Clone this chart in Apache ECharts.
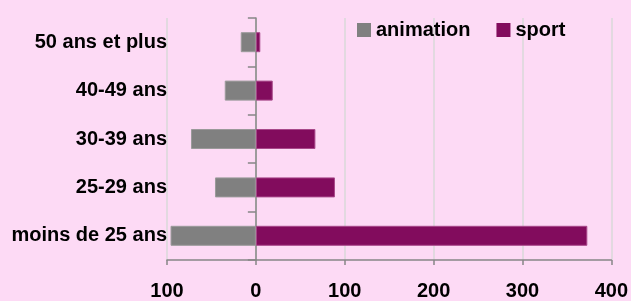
<!DOCTYPE html>
<html lang="fr">
<head>
    <meta charset="utf-8">
    <style>
        html, body { margin: 0; padding: 0; background: #fddaf5; }
        #chart { width: 631px; height: 301px; }
    </style>
</head>
<body>
<div id="chart"></div>
<script type="text/javascript" src="https://cdn.jsdelivr.net/npm/echarts@6/dist/echarts.min.js"></script>
<script type="text/javascript">
    // categories, bottom to top
    var categories = ['moins de 25 ans', '25-29 ans', '30-39 ans', '40-49 ans', '50 ans et plus'];
    // animation drawn to the left, so negative values
    var animation = [-96, -46, -73, -35, -17];
    var sport = [373, 89, 67, 19, 5];
    var xTicks = [-100, 0, 100, 200, 300, 400];

    var font = 'Liberation Sans';

    var option = {
        backgroundColor: '#fddaf5',
        textStyle: { fontFamily: font },
        legend: {
            data: ['animation', 'sport'],
            left: 352,
            top: 15,
            itemWidth: 14,
            itemHeight: 14,
            itemGap: 26,
            icon: 'rect',
            itemStyle: { borderWidth: 0 },
            textStyle: { fontFamily: font, fontWeight: 'bold', fontSize: 20, color: '#000' }
        },
        grid: { left: 167, right: 19, top: 18, bottom: 38 },
        xAxis: {
            type: 'value',
            min: xTicks[0],
            max: xTicks[xTicks.length - 1],
            interval: 100,
            axisLine: { show: true, lineStyle: { color: '#868686', width: 1.5 } },
            axisTick: { show: true, length: 5, lineStyle: { color: '#868686', width: 1.5 } },
            splitLine: { show: true, lineStyle: { color: '#d9d9d9', width: 1.5 } },
            axisLabel: {
                margin: 21,
                fontFamily: font,
                fontWeight: 'bold',
                fontSize: 20,
                color: '#000',
                formatter: function (v) { return Math.abs(v); }
            }
        },
        yAxis: [{
            type: 'category',
            data: categories,
            position: 'left',
            axisLine: { show: false, onZero: false },
            axisTick: { show: false },
            axisLabel: { margin: 0, fontFamily: font, fontWeight: 'bold', fontSize: 20, color: '#000' }
        }, {
            type: 'category',
            data: categories,
            position: 'left',
            axisLine: { show: true, onZero: true, lineStyle: { color: '#868686', width: 1.5 } },
            axisTick: { show: true, length: 8, lineStyle: { color: '#868686', width: 1.5 } },
            axisLabel: { show: false }
        }],
        series: [{
            name: 'animation',
            type: 'bar',
            data: animation,
            barWidth: 20,
            barGap: '-100%',
            itemStyle: { color: '#808080', borderColor: '#9a9a9a', borderWidth: 1 }
        }, {
            name: 'sport',
            type: 'bar',
            data: sport,
            barWidth: 20,
            barGap: '-100%',
            itemStyle: { color: '#820c5d', borderColor: '#a8488a', borderWidth: 1 }
        }]
    };

    var myChart = echarts.init(document.getElementById('chart'));
    myChart.setOption(option);
</script>
</body>
</html>
